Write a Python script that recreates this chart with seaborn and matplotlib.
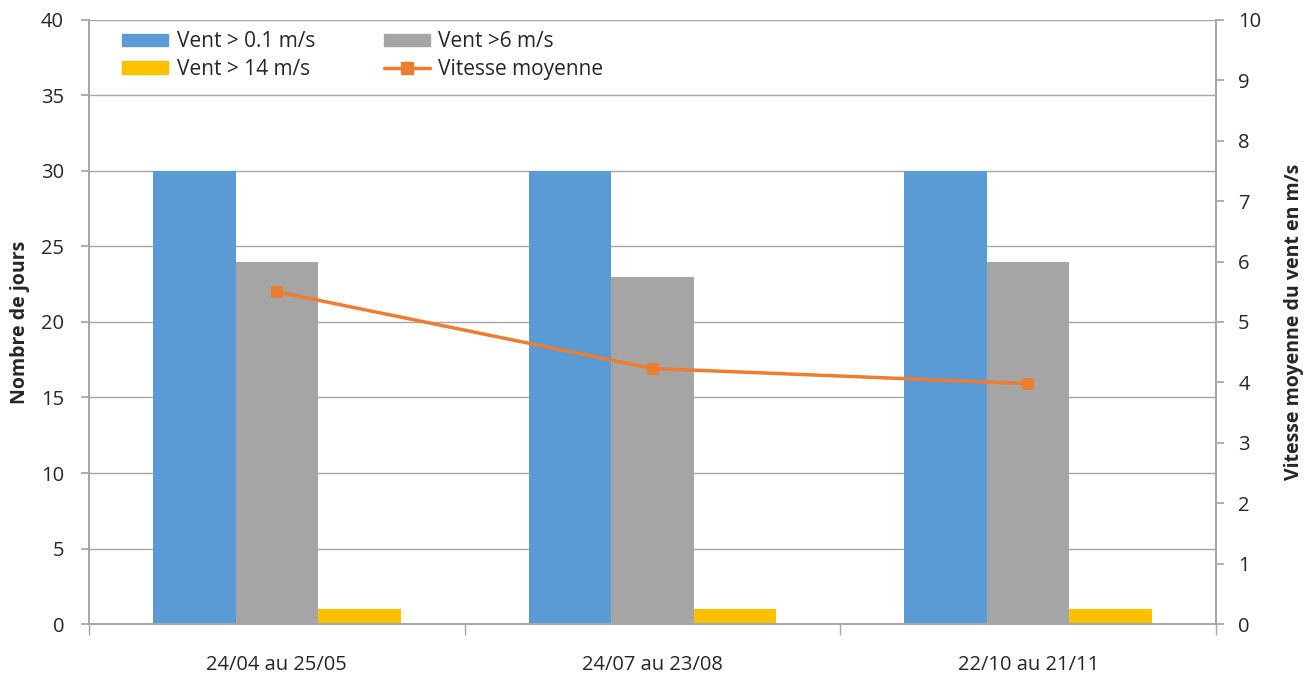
import matplotlib
matplotlib.use("Agg")
import matplotlib.pyplot as plt
import seaborn as sns
import pandas as pd
from matplotlib.patches import Patch
from matplotlib.lines import Line2D

periodes = ["24/04 au 25/05", "24/07 au 23/08", "22/10 au 21/11"]
series = ["Vent > 0.1 m/s", "Vent >6 m/s", "Vent > 14 m/s"]
vent_01 = [30, 30, 30]
vent_6 = [24, 23, 24]
vent_14 = [1, 1, 1]
vitesse_moyenne = [5.5, 4.23, 3.98]
line_label = "Vitesse moyenne"

colors = ["#5B9BD5", "#A5A5A5", "#FFC000"]
line_color = "#ED7D31"

sns.set_theme(style="white")
plt.rcParams["font.family"] = ["Open Sans", "DejaVu Sans"]

rows = []
for s, vals in zip(series, [vent_01, vent_6, vent_14]):
    for p, v in zip(periodes, vals):
        rows.append({"periode": p, "serie": s, "jours": v})
df = pd.DataFrame(rows)

fig = plt.figure(figsize=(13.15, 6.73), dpi=100)
ax = fig.add_axes([0.0677, 0.0728, 0.857, 0.8975])

sns.barplot(data=df, x="periode", y="jours", hue="serie", order=periodes,
            hue_order=series, palette=colors, width=0.66, gap=0,
            saturation=1, ax=ax, legend=False, zorder=2, linewidth=0, edgecolor="none")

ax.set_ylim(0, 40)
ax.set_yticks(range(0, 41, 5))
ax.set_xlim(-0.5, 2.5)
ax.yaxis.grid(True, color="#A6A6A6", linewidth=1)
ax.set_axisbelow(True)
ax.set_xlabel("")
ax.set_ylabel("Nombre de jours", fontsize=14, fontweight="bold", labelpad=8)
ax.tick_params(axis="y", labelsize=14.5, length=6, color="#A6A6A6", left=True, pad=12)
ax.tick_params(axis="x", labelsize=14.5, length=0, pad=22)
ax.set_xticks([-0.5, 0.5, 1.5, 2.5], minor=True)
ax.tick_params(axis="x", which="minor", length=8, color="#A6A6A6", bottom=True)
for side in ["left", "bottom", "right"]:
    ax.spines[side].set_color("#A6A6A6")
ax.spines["top"].set_visible(False)

ax2 = ax.twinx()
sns.lineplot(x=list(range(len(periodes))), y=vitesse_moyenne, ax=ax2, color=line_color,
             linewidth=2.5, marker="s", markersize=9, markeredgewidth=0, zorder=3)
ax2.set_ylim(0, 10)
ax2.set_yticks(range(0, 11))
ax2.set_ylabel("Vitesse moyenne du vent en m/s", fontsize=14, fontweight="bold", labelpad=16)
ax2.tick_params(axis="y", labelsize=14.5, length=6, color="#A6A6A6", right=True, pad=10)
for side in ["left", "bottom", "right"]:
    ax2.spines[side].set_color("#A6A6A6")
ax2.spines["top"].set_visible(False)
ax2.grid(False)

handles = [Patch(color=colors[0], label=series[0]),
           Patch(color=colors[2], label=series[2]),
           Patch(color=colors[1], label=series[1]),
           Line2D([], [], color=line_color, linewidth=2.5, marker="s", markersize=8, label=line_label)]
ax.legend(handles=handles, ncol=2, loc="upper left", bbox_to_anchor=(0.013, 1.012),
          frameon=False, fontsize=15, handlelength=2.2, handleheight=0.55,
          columnspacing=3.3, labelspacing=0.3, handletextpad=0.4)

fig.savefig("out.png", dpi=100)
